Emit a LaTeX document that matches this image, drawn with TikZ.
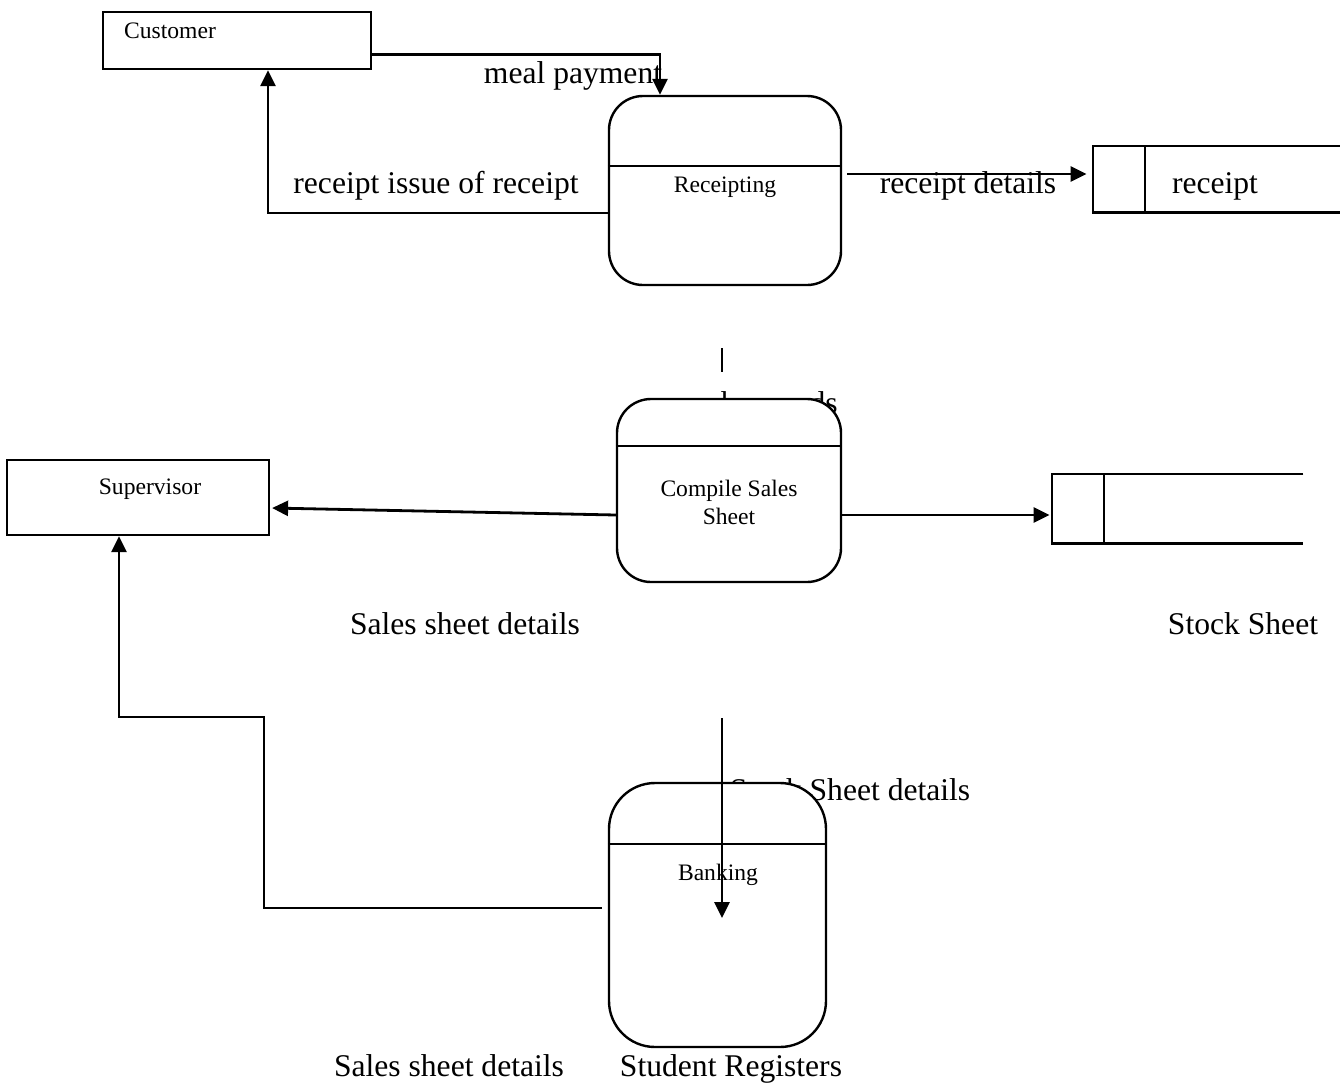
\documentclass[tikz,border=0pt]{standalone}
\usepackage{fontspec}
\setmainfont{Liberation Serif}
\usetikzlibrary{arrows.meta,calc}

\begin{document}
\begin{tikzpicture}[x=0.5pt,y=-0.5pt,
  big/.style={font=\fontsize{15.8}{19}\selectfont, inner sep=0pt},
  small/.style={font=\fontsize{11.8}{14}\selectfont, inner sep=0pt, align=center},
  entity/.style={draw, line width=1.1pt, fill=white, inner sep=0pt},
  process/.style={draw, line width=1.2pt, fill=white, rounded corners=#1, inner sep=0pt},
  process/.default=17pt,
  storeframe/.style={inner sep=0pt},
  storeline/.style={line width=1.1pt},
  flow/.style={line width=1.4pt, -{Triangle[length=8pt,width=7.5pt]}},
  plain/.style={line width=1.3pt}
]
\useasboundingbox (0,0) rectangle (1340,1088);

% helper coordinates for connector heights
\coordinate (y174) at (0,174);
\coordinate (y213) at (0,213);
\coordinate (y508) at (0,508);
\coordinate (y515) at (0,515);
\coordinate (y908) at (0,908);
\coordinate (x119) at (119,0);
\coordinate (j1) at (264,717);
\coordinate (sfrom) at (722,718);
\coordinate (sto) at (722,918);
\coordinate (stubtop) at (722,348);
\coordinate (stubbot) at (722,372);

% labels that sit beneath the process boxes
\node[big, anchor=base east] (cashrec) at (838,413) {cash records};
\node[big, anchor=base] (ssdet) at (850,800) {Stock Sheet details};

% external entities
\node[entity, minimum width=134pt, minimum height=28.5pt] (cust) at (237,40.5) {};
\node[small, anchor=base] (custtxt) at (170,38) {Customer};
\node[entity, minimum width=131pt, minimum height=37.5pt] (sup) at (138,497.5) {};
\node[small, anchor=base] (suptxt) at (150,494) {Supervisor};

% processes
\node[process, minimum width=116pt, minimum height=94.5pt] (recp) at (725,190.5) {};
\draw[storeline] (recp.west |- 0,166) -- (recp.east |- 0,166);
\node[small, anchor=base] (recptxt) at (725,192) {Receipting};

\node[process, minimum width=112pt, minimum height=91.5pt] (cmp) at (729,490.5) {};
\draw[storeline] (cmp.west |- 0,446) -- (cmp.east |- 0,446);
\node[small] (cmptxt) at (729,502) {Compile Sales\\Sheet};

\node[process=23pt, minimum width=108.5pt, minimum height=132pt] (bank) at (717.5,915) {};
\draw[storeline] (bank.west |- 0,844) -- (bank.east |- 0,844);
\node[small, anchor=base] (banktxt) at (718,880) {Banking};

% data stores (open on the right)
\node[storeframe, minimum width=123.5pt, minimum height=33pt] (rstore) at (1216.5,179) {};
\draw[storeline] (rstore.north east) -- (rstore.north west) -- (rstore.south west) -- (rstore.south east);
\draw[storeline] ([xshift=26pt]rstore.north west) -- ([xshift=26pt]rstore.south west);
\node[big, anchor=base] (rstoretxt) at (1215,193) {receipt};

\node[storeframe, minimum width=125.5pt, minimum height=34.5pt] (sstore) at (1177.5,508.5) {};
\draw[storeline] (sstore.north east) -- (sstore.north west) -- (sstore.south west) -- (sstore.south east);
\draw[storeline] ([xshift=26pt]sstore.north west) -- ([xshift=26pt]sstore.south west);

% flows
\draw[flow] ([yshift=8pt]cust.south east) -| ([xshift=-32.5pt]recp.north);
\draw[flow] (recp.west |- y213) -| ([xshift=15.5pt]cust.south);
\draw[flow] ([xshift=2.5pt]recp.east |- y174) -- ([xshift=-3pt]rstore.west |- y174);
\draw[plain] (stubtop) -- (stubbot);
\draw[flow] (cmp.west |- y515) -- ([xshift=1pt]sup.east |- y508);
\draw[flow] (cmp.east |- y515) -- ([xshift=-1pt]sstore.west |- y515);
\draw[flow] ([xshift=-3pt]bank.west |- y908) -| (j1) -| (sup.south -| x119);
\draw[flow] (sfrom) -- (sto);

% flow labels
\node[big, anchor=base] (mealpay) at (573,83) {meal payment};
\node[big, anchor=base] (issue) at (436,193) {receipt issue of receipt};
\node[big, anchor=base] (rdet) at (968,193) {receipt details};
\node[big, anchor=base] (salesdet1) at (465,634) {Sales sheet details};
\node[big, anchor=base] (stocksheet) at (1243,634) {Stock Sheet};
\node[big, anchor=base] (salesdet2) at (449,1076) {Sales sheet details};
\node[big, anchor=base] (studreg) at (731,1076) {Student Registers};
\end{tikzpicture}
\end{document}
